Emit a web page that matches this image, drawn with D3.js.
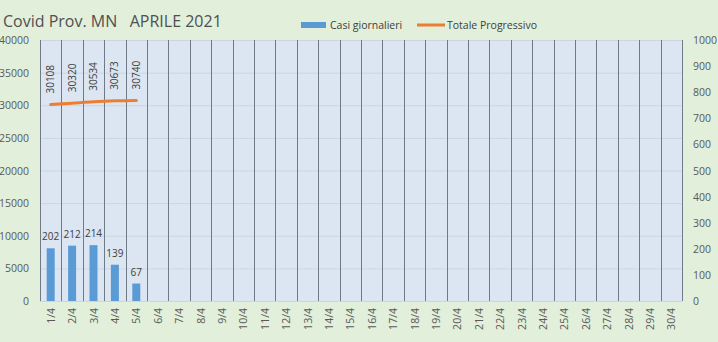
<!DOCTYPE html>
<html>
<head>
<meta charset="utf-8">
<script src="https://cdn.jsdelivr.net/npm/d3@7"></script>
<style>
  html, body { margin: 0; padding: 0; background: #e2efda; }
  svg { display: block; font-family: "Open Sans", "Liberation Sans", sans-serif; }
</style>
</head>
<body>
<svg id="chart" width="718" height="342"></svg>
<script>
// giorni di aprile
const giorni = d3.range(1, 31).map(d => d + "/4");
// casi giornalieri (asse destro)
const casiGiornalieri = [202, 212, 214, 139, 67];
// totale progressivo (asse sinistro)
const totaleProgressivo = [30108, 30320, 30534, 30673, 30740];
const leftTicks = [0, 5000, 10000, 15000, 20000, 25000, 30000, 35000, 40000];
const rightTicks = [0, 100, 200, 300, 400, 500, 600, 700, 800, 900, 1000];

const width = 718, height = 342;
const margin = { top: 40, right: 36, bottom: 41, left: 40 };
const innerW = width - margin.left - margin.right;
const innerH = height - margin.top - margin.bottom;

const svg = d3.select("#chart");
svg.append("rect").attr("width", width).attr("height", height).attr("fill", "#e2efda");

const g = svg.append("g").attr("transform", `translate(${margin.left},${margin.top})`);

const x = d3.scaleBand().domain(giorni).range([0, innerW]);
const yLeft = d3.scaleLinear().domain([0, 40000]).range([innerH, 0]);
const yRight = d3.scaleLinear().domain([0, 1000]).range([innerH, 0]);

// sfondo area grafico
g.append("rect")
    .attr("width", innerW)
    .attr("height", innerH)
    .attr("fill", "#dce6f2");

// griglia orizzontale
g.append("g")
    .selectAll("line")
    .data(leftTicks)
    .enter()
    .append("line")
    .attr("x1", 0)
    .attr("x2", innerW)
    .attr("y1", d => yLeft(d) + 0.5)
    .attr("y2", d => yLeft(d) + 0.5)
    .attr("stroke", "#c9d5e3")
    .attr("stroke-width", 1);

// griglia verticale (tra le categorie)
const bordi = giorni.map(d => x(d)).concat([innerW]);
g.append("g")
    .selectAll("line")
    .data(bordi)
    .enter()
    .append("line")
    .attr("x1", d => Math.round(d) + 0.5)
    .attr("x2", d => Math.round(d) + 0.5)
    .attr("y1", 0)
    .attr("y2", innerH)
    .attr("stroke", "#6f7a86")
    .attr("stroke-width", 1);

// barre
const barW = 8;
g.append("g")
    .selectAll("rect")
    .data(casiGiornalieri)
    .enter()
    .append("rect")
    .attr("x", (d, i) => x(giorni[i]) + x.bandwidth() / 2 - barW / 2)
    .attr("y", d => yRight(d))
    .attr("width", barW)
    .attr("height", d => innerH - yRight(d))
    .attr("fill", "#5b9bd5");

// etichette barre
g.append("g")
    .selectAll("text")
    .data(casiGiornalieri)
    .enter()
    .append("text")
    .attr("x", (d, i) => x(giorni[i]) + x.bandwidth() / 2)
    .attr("y", d => yRight(d) - 8)
    .attr("text-anchor", "middle")
    .attr("fill", "#404040")
    .style("font-size", "10px")
    .text(d => d);

// linea totale
const line = d3.line()
    .x((d, i) => x(giorni[i]) + x.bandwidth() / 2)
    .y(d => yLeft(d))
    .curve(d3.curveMonotoneX);

g.append("path")
    .datum(totaleProgressivo)
    .attr("d", line)
    .attr("fill", "none")
    .attr("stroke", "#ed7d31")
    .attr("stroke-width", 3)
    .attr("stroke-linecap", "round");

// etichette linea (verticali)
g.append("g")
    .selectAll("text")
    .data(totaleProgressivo)
    .enter()
    .append("text")
    .attr("transform", (d, i) => `translate(${x(giorni[i]) + x.bandwidth() / 2 + 3.5},${yLeft(d) - 11}) rotate(-90)`)
    .attr("fill", "#404040")
    .style("font-size", "10px")
    .text(d => d);

// asse sinistro
g.append("g")
    .selectAll("text")
    .data(leftTicks)
    .enter()
    .append("text")
    .attr("x", -11)
    .attr("y", d => yLeft(d) + 4)
    .attr("text-anchor", "end")
    .attr("fill", "#595959")
    .style("font-size", "10.5px")
    .text(d => d);

// asse destro
g.append("g")
    .selectAll("text")
    .data(rightTicks)
    .enter()
    .append("text")
    .attr("x", innerW + 11)
    .attr("y", d => yRight(d) + 4)
    .attr("text-anchor", "start")
    .attr("fill", "#595959")
    .style("font-size", "10.5px")
    .text(d => d);

// etichette asse x
g.append("g")
    .selectAll("text")
    .data(giorni)
    .enter()
    .append("text")
    .attr("transform", d => `translate(${x(d) + x.bandwidth() / 2 + 4},${innerH + 7}) rotate(-90)`)
    .attr("text-anchor", "end")
    .attr("fill", "#595959")
    .style("font-size", "10.5px")
    .text(d => d);

// titolo
svg.append("text")
    .attr("x", 3)
    .attr("y", 27)
    .attr("fill", "#505050")
    .style("font-size", "16px")
    .attr("xml:space", "preserve")
    .style("white-space", "pre")
    .text("Covid Prov. MN   APRILE 2021");

// legenda
const legend = svg.append("g");
legend.append("rect")
    .attr("x", 301).attr("y", 22).attr("width", 25).attr("height", 6)
    .attr("fill", "#5b9bd5");
legend.append("text")
    .attr("x", 330).attr("y", 29)
    .attr("fill", "#404040")
    .style("font-size", "10.5px")
    .text("Casi giornalieri");
legend.append("line")
    .attr("x1", 417).attr("x2", 445).attr("y1", 25).attr("y2", 25)
    .attr("stroke", "#ed7d31").attr("stroke-width", 3);
legend.append("text")
    .attr("x", 447).attr("y", 29)
    .attr("fill", "#404040")
    .style("font-size", "10.5px")
    .text("Totale Progressivo");
</script>
</body>
</html>
